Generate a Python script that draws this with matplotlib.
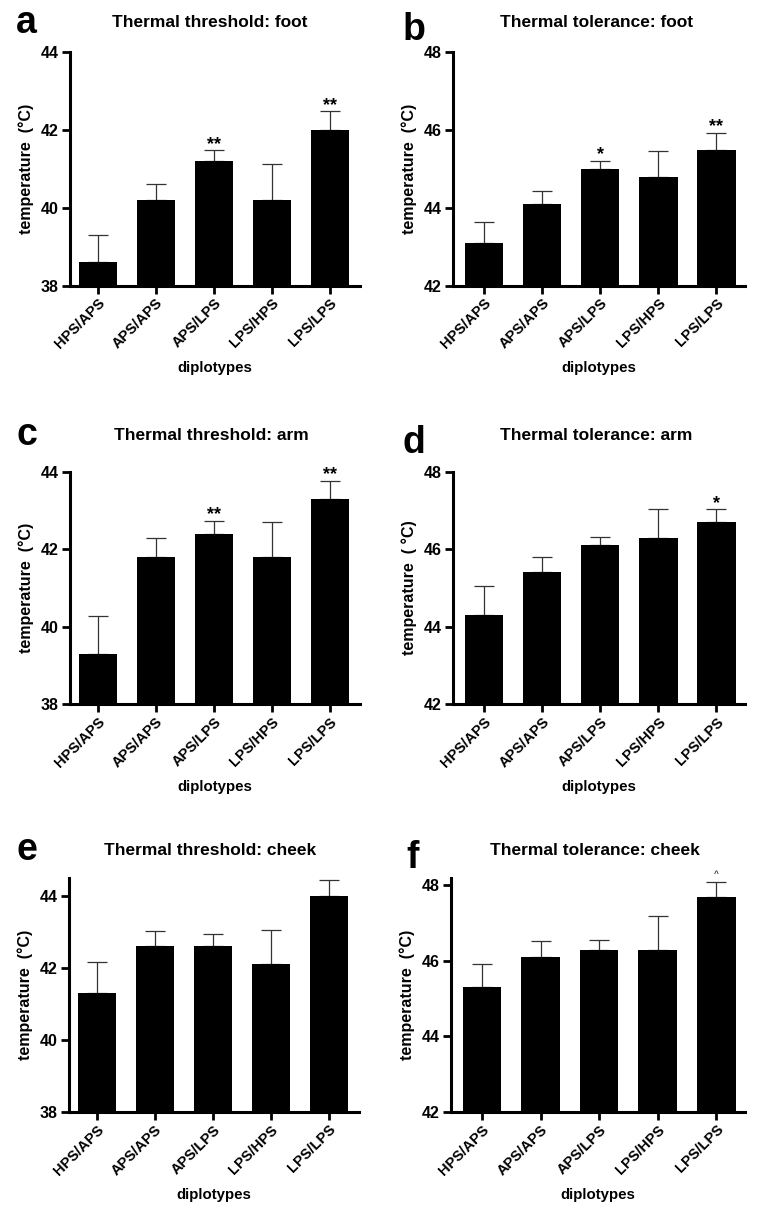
import matplotlib
matplotlib.use("Agg")
import matplotlib.pyplot as plt
import numpy as np

plt.rcParams['font.family'] = ['Liberation Sans', 'DejaVu Sans']
plt.rcParams['font.weight'] = 'bold'

categories = ["HPS/APS", "APS/APS", "APS/LPS", "LPS/HPS", "LPS/LPS"]

titles = ["Thermal threshold: foot", "Thermal tolerance: foot",
          "Thermal threshold: arm", "Thermal tolerance: arm",
          "Thermal threshold: cheek", "Thermal tolerance: cheek"]
letters = ["a", "b", "c", "d", "e", "f"]
ylabels = ["temperature  (°C)", "temperature  (°C)",
           "temperature  (°C)", "temperature  ( °C)",
           "temperature  (°C)", "temperature  (°C)"]

means_a = [38.6, 40.2, 41.2, 40.2, 42.0]
err_a = [0.71, 0.40, 0.27, 0.92, 0.47]
means_b = [43.1, 44.1, 45.0, 44.8, 45.5]
err_b = [0.53, 0.33, 0.20, 0.65, 0.42]
means_c = [39.3, 41.8, 42.4, 41.8, 43.3]
err_c = [0.98, 0.48, 0.34, 0.90, 0.47]
means_d = [44.3, 45.4, 46.1, 46.3, 46.7]
err_d = [0.76, 0.40, 0.22, 0.75, 0.33]
means_e = [41.3, 42.6, 42.6, 42.1, 44.0]
err_e = [0.86, 0.41, 0.33, 0.94, 0.43]
means_f = [45.3, 46.1, 46.3, 46.3, 47.7]
err_f = [0.62, 0.42, 0.25, 0.89, 0.38]

stars_a = ["", "", "**", "", "**"]
stars_b = ["", "", "*", "", "**"]
stars_c = ["", "", "**", "", "**"]
stars_d = ["", "", "", "", "*"]
stars_e = ["", "", "", "", ""]
stars_f = ["", "", "", "", "^"]

ylims = [(38, 44), (42, 48), (38, 44), (42, 48), (38, 44.5), (42, 48.2)]
yticks = [[38, 40, 42, 44], [42, 44, 46, 48], [38, 40, 42, 44],
          [42, 44, 46, 48], [38, 40, 42, 44], [42, 44, 46, 48]]

means = [means_a, means_b, means_c, means_d, means_e, means_f]
errs = [err_a, err_b, err_c, err_d, err_e, err_f]
stars = [stars_a, stars_b, stars_c, stars_d, stars_e, stars_f]

W, H = 764, 1213
fig = plt.figure(figsize=(W / 100, H / 100), dpi=100)

# axes boxes in pixel coords: (left, right, top, bottom)
boxes = [(70, 360, 51.7, 285.7), (453, 745, 52.3, 285.7),
         (70, 360, 471.7, 704.3), (453, 745, 471.7, 704.3),
         (69, 359, 877.7, 1112), (451, 745, 877.7, 1112)]
xlims = [(-0.48, 4.52), (-0.53, 4.49)] * 3
# title (x centre, baseline) and letter (left x, baseline) in pixels
title_pos = [(210, 27), (597, 27), (211, 440), (596, 440), (210, 855), (595, 855)]
letter_pos = [(16, 33), (403, 40), (16, 445), (403, 453), (16, 860), (406, 868)]

for i in range(6):
    l, r, t, b = boxes[i]
    ax = fig.add_axes([l / W, 1 - b / H, (r - l) / W, (b - t) / H])
    x = np.arange(len(categories))
    ax.bar(x, means[i], width=0.66, color='black', zorder=2)
    ax.errorbar(x, means[i], yerr=[np.zeros(5), errs[i]], fmt='none',
                ecolor='#333333', elinewidth=0.9, capsize=7.5, capthick=0.9,
                zorder=1)
    for xi, m, e, s in zip(x, means[i], errs[i], stars[i]):
        if s == "^":
            ax.text(xi, m + e + 0.1, "^", ha='center', va='bottom',
                    fontsize=6, color='#333333', clip_on=False)
        elif s:
            ax.text(xi, m + e - 0.06, s, ha='center', va='bottom',
                    fontsize=13, fontweight='bold', clip_on=False)
    ax.set_xlim(*xlims[i])
    ax.set_ylim(*ylims[i])
    ax.set_yticks(yticks[i])
    ax.set_xticks(x)
    ax.set_xticklabels(categories, rotation=45, ha='right',
                       rotation_mode='anchor', fontsize=10.5, fontweight='bold')
    ax.tick_params(axis='y', labelsize=11.5, width=2, length=6, pad=2)
    ax.tick_params(axis='x', width=2, length=5.5, pad=2)
    for lab in ax.get_yticklabels():
        lab.set_fontweight('bold')
    ax.spines['top'].set_visible(False)
    ax.spines['right'].set_visible(False)
    ax.spines['left'].set_linewidth(2.2)
    ax.spines['bottom'].set_linewidth(2.2)
    ax.set_ylabel(ylabels[i], fontsize=11.5, fontweight='bold', labelpad=5)
    ax.set_xlabel("diplotypes", fontsize=10.8, fontweight='bold', labelpad=7)
    tx, tyb = title_pos[i]
    fig.text(tx / W, 1 - tyb / H, titles[i], ha='center', va='baseline',
             fontsize=12.5, fontweight='bold')
    lx, lyb = letter_pos[i]
    fig.text(lx / W, 1 - lyb / H, letters[i], ha='left', va='baseline',
             fontsize=27, fontweight='bold')

fig.savefig("out.png", dpi=100, facecolor='white')
